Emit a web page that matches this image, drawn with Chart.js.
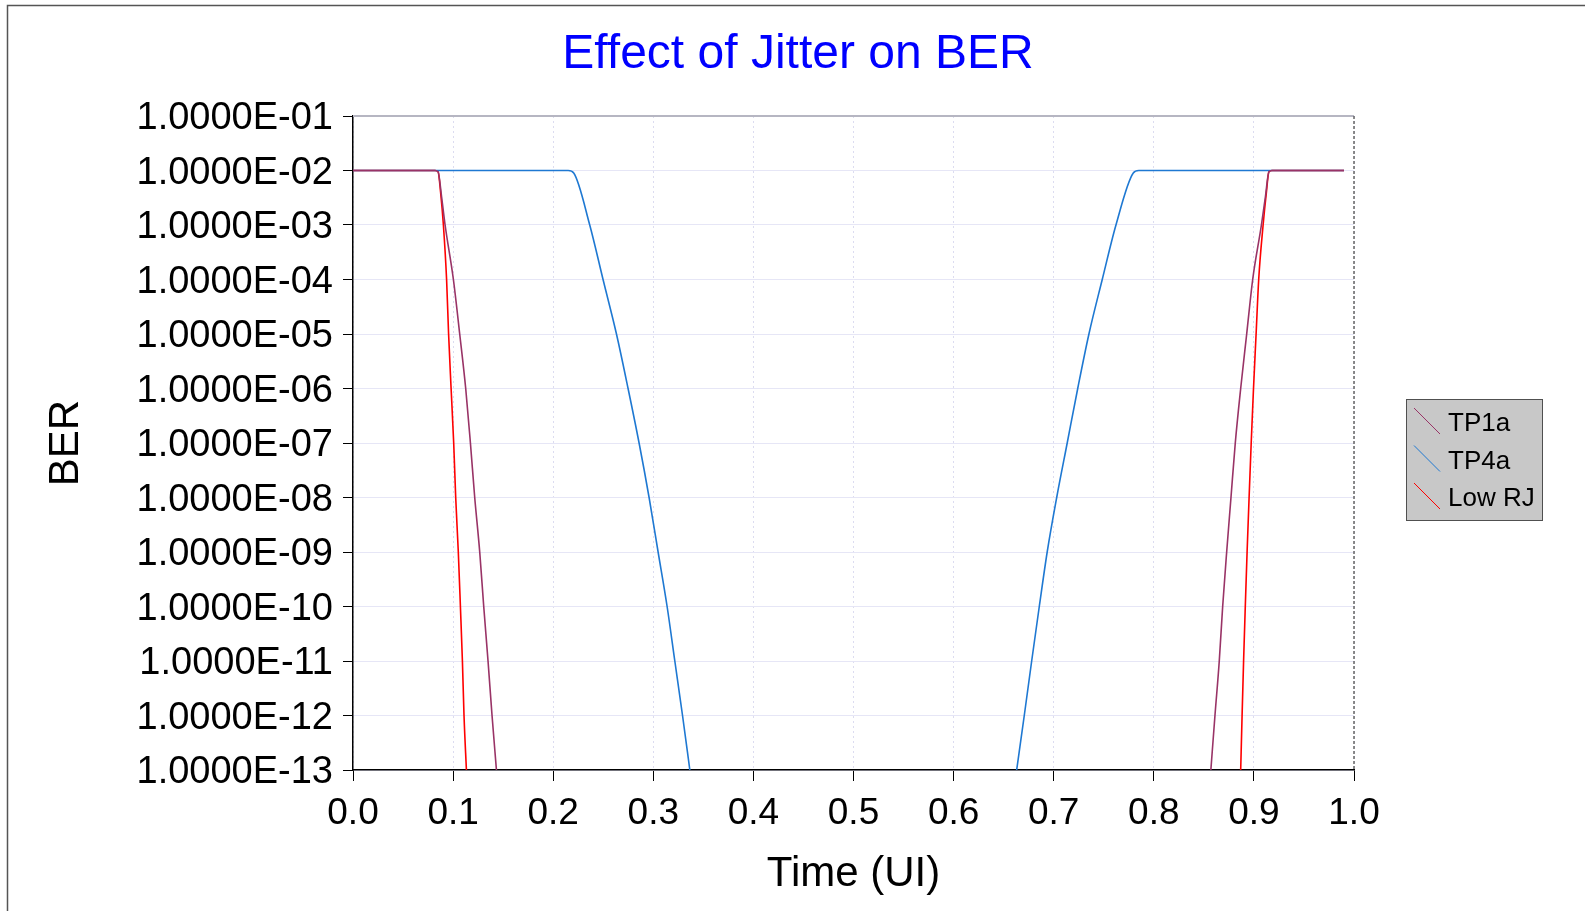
<!DOCTYPE html>
<html>
<head>
<meta charset="utf-8">
<title>Effect of Jitter on BER</title>
<script src="https://cdn.jsdelivr.net/npm/chart.js@4.4.1/dist/chart.umd.min.js"></script>
<style>
  html, body { margin: 0; padding: 0; background: #fff; overflow: hidden; }
  canvas { display: block; }
</style>
</head>
<body>
<canvas id="berChart" width="1585" height="911"></canvas>
<script>
// axis ticks
const xTickValues = [0, 0.1, 0.2, 0.3, 0.4, 0.5, 0.6, 0.7, 0.8, 0.9, 1.0];
const xTickLabels = ['0.0', '0.1', '0.2', '0.3', '0.4', '0.5', '0.6', '0.7', '0.8', '0.9', '1.0'];
const yTickValues = [1e-1, 1e-2, 1e-3, 1e-4, 1e-5, 1e-6, 1e-7, 1e-8, 1e-9, 1e-10, 1e-11, 1e-12, 1e-13];
const yTickLabels = ['1.0000E-01', '1.0000E-02', '1.0000E-03', '1.0000E-04', '1.0000E-05', '1.0000E-06',
  '1.0000E-07', '1.0000E-08', '1.0000E-09', '1.0000E-10', '1.0000E-11', '1.0000E-12', '1.0000E-13'];

// series (time in UI, BER); null = below 1E-13, not drawn
const tp1aTime = [0, 0.082, 0.085, 0.0885, 0.092, 0.1003, 0.1066, 0.1126, 0.1173, 0.1216, 0.1266, 0.1306, 0.1349, 0.1389, 0.1433,
  0.5,
  0.857, 0.8611, 0.8654, 0.8688, 0.8728, 0.8771, 0.8814, 0.8868, 0.8928, 0.8988, 0.9075, 0.9115, 0.915, 0.918, 0.99];
const tp1aBer = [1e-2, 1e-2, 9.5e-3, 3.3e-3, 1e-3, 1e-4, 1e-5, 1e-6, 1e-7, 1e-8, 1e-9, 1e-10, 1e-11, 1e-12, 1e-13,
  null,
  1e-13, 1e-12, 1e-11, 1e-10, 1e-9, 1e-8, 1e-7, 1e-6, 1e-5, 1e-4, 1e-3, 3.3e-3, 9.5e-3, 1e-2, 1e-2];

const tp4aTime = [0, 0.215, 0.2205, 0.2365, 0.2498, 0.2632, 0.2748, 0.2858, 0.2958, 0.3048, 0.3138, 0.3215, 0.3292, 0.3365,
  0.5,
  0.663, 0.6706, 0.678, 0.6856, 0.6935, 0.703, 0.7135, 0.724, 0.7352, 0.7485, 0.7622, 0.7795, 0.785, 0.99];
const tp4aBer = [1e-2, 1e-2, 9e-3, 1e-3, 1e-4, 1e-5, 1e-6, 1e-7, 1e-8, 1e-9, 1e-10, 1e-11, 1e-12, 1e-13,
  null,
  1e-13, 1e-12, 1e-11, 1e-10, 1e-9, 1e-8, 1e-7, 1e-6, 1e-5, 1e-4, 1e-3, 9e-3, 1e-2, 1e-2];

const lowRjTime = [0, 0.082, 0.085, 0.0875, 0.0903, 0.0935, 0.0955, 0.098, 0.1006, 0.1026, 0.1052, 0.1073, 0.1093, 0.1109, 0.1133,
  0.5,
  0.8868, 0.8882, 0.8897, 0.8914, 0.8932, 0.8952, 0.8973, 0.8996, 0.9022, 0.9048, 0.9092, 0.9125, 0.915, 0.918, 0.99];
const lowRjBer = [1e-2, 1e-2, 9.5e-3, 4e-3, 1e-3, 1e-4, 1e-5, 1e-6, 1e-7, 1e-8, 1e-9, 1e-10, 1e-11, 1e-12, 1e-13,
  null,
  1e-13, 1e-12, 1e-11, 1e-10, 1e-9, 1e-8, 1e-7, 1e-6, 1e-5, 1e-4, 1e-3, 4e-3, 9.5e-3, 1e-2, 1e-2];

const toPoints = (xs, ys) => xs.map((x, i) => ({ x: x, y: ys[i] }));

Chart.defaults.font.family = "'Liberation Sans', Arial, sans-serif";
Chart.defaults.color = '#000';

// white background + outer frame line (left and top edges)
const framePlugin = {
  id: 'frame',
  beforeDraw(chart) {
    const ctx = chart.ctx;
    ctx.save();
    ctx.fillStyle = '#fff';
    ctx.fillRect(0, 0, chart.width, chart.height);
    ctx.strokeStyle = '#555';
    ctx.lineWidth = 1.5;
    ctx.beginPath();
    ctx.moveTo(chart.width + 5, 5.5);
    ctx.lineTo(7.5, 5.5);
    ctx.lineTo(7.5, chart.height + 5);
    ctx.stroke();
    ctx.restore();
  },
  afterDraw(chart) {
    const { ctx, chartArea: a } = chart;
    ctx.save();
    ctx.strokeStyle = '#b6b6c2';
    ctx.lineWidth = 2;
    ctx.beginPath();
    ctx.moveTo(a.left, a.top);
    ctx.lineTo(a.right, a.top);
    ctx.stroke();
    ctx.strokeStyle = '#666';
    ctx.lineWidth = 1.5;
    ctx.setLineDash([3, 2]);
    ctx.beginPath();
    ctx.moveTo(a.right, a.top);
    ctx.lineTo(a.right, a.bottom);
    ctx.stroke();
    ctx.restore();
  }
};

// grey boxed legend with diagonal line swatches
const boxLegend = {
  id: 'boxLegend',
  afterDraw(chart) {
    const ctx = chart.ctx;
    const left = 1406, top = 399, w = 136, h = 121;
    ctx.save();
    ctx.fillStyle = '#c8c8c8';
    ctx.fillRect(left, top, w, h);
    ctx.strokeStyle = '#505050';
    ctx.lineWidth = 1;
    ctx.strokeRect(left + 0.5, top + 0.5, w, h);
    ctx.font = "26px 'Liberation Sans', Arial, sans-serif";
    ctx.textBaseline = 'middle';
    ctx.textAlign = 'left';
    chart.data.datasets.forEach((ds, i) => {
      const cy = top + 23 + i * 37.5;
      ctx.strokeStyle = ds.borderColor;
      ctx.lineWidth = 1;
      ctx.beginPath();
      ctx.moveTo(left + 8, cy - 14);
      ctx.lineTo(left + 34, cy + 12);
      ctx.stroke();
      ctx.fillStyle = '#000';
      ctx.fillText(ds.label, left + 42, cy + 2);
    });
    ctx.restore();
  }
};

const lineStyle = {
  borderWidth: 1.6,
  pointRadius: 0,
  cubicInterpolationMode: 'monotone',
  fill: false
};

new Chart(document.getElementById('berChart'), {
  type: 'line',
  data: {
    datasets: [
      { label: 'TP1a', data: toPoints(tp1aTime, tp1aBer), borderColor: '#993366', ...lineStyle },
      { label: 'TP4a', data: toPoints(tp4aTime, tp4aBer), borderColor: '#1e78d2', ...lineStyle },
      { label: 'Low RJ', data: toPoints(lowRjTime, lowRjBer), borderColor: '#ff0000', ...lineStyle }
    ]
  },
  options: {
    responsive: false,
    animation: false,
    devicePixelRatio: 1,
    layout: {
      padding: { top: 0, bottom: 0, left: 11, right: 0 }
    },
    plugins: {
      legend: { display: false },
      tooltip: { enabled: false },
      title: {
        display: true,
        text: 'Effect of Jitter on BER',
        color: '#0000ff',
        font: { size: 48, weight: 'normal' },
        padding: { top: 26, bottom: 32.4 }
      }
    },
    scales: {
      x: {
        type: 'linear',
        min: 0,
        max: 1,
        afterBuildTicks: (axis) => { axis.ticks = xTickValues.map(v => ({ value: v })); },
        afterFit: (axis) => { axis.height = 141; },
        ticks: {
          autoSkip: false,
          maxRotation: 0,
          padding: 11,
          font: { size: 37 },
          callback: (v, i) => xTickLabels[i]
        },
        grid: {
          color: '#dcdcf0',
          lineWidth: 1,
          tickLength: 11,
          tickColor: '#000',
          tickWidth: 1
        },
        border: { color: '#000', width: 1.5, dash: [2, 3] },
        title: {
          display: true,
          text: 'Time (UI)',
          font: { size: 42 },
          padding: { top: 0, bottom: 11 }
        }
      },
      y: {
        type: 'logarithmic',
        min: 1e-13,
        max: 1e-1,
        afterBuildTicks: (axis) => { axis.ticks = yTickValues.map(v => ({ value: v })); },
        afterFit: (axis) => { axis.width = 342; },
        ticks: {
          autoSkip: false,
          padding: 10,
          labelOffset: 3,
          font: { size: 38 },
          callback: (v, i) => yTickLabels[i]
        },
        grid: {
          color: '#e6e6f6',
          lineWidth: 1,
          tickLength: 10,
          tickColor: '#000',
          tickWidth: 1
        },
        border: { color: '#000', width: 1.5 },
        title: {
          display: true,
          text: 'BER',
          font: { size: 42 },
          padding: { top: 30, bottom: 0 }
        }
      },
      legendSpace: {
        type: 'linear',
        position: 'right',
        display: true,
        afterFit: (axis) => { axis.width = 231; },
        ticks: { display: false },
        grid: { display: false, drawOnChartArea: false },
        border: { display: false }
      }
    }
  },
  plugins: [framePlugin, boxLegend]
});
</script>
</body>
</html>
